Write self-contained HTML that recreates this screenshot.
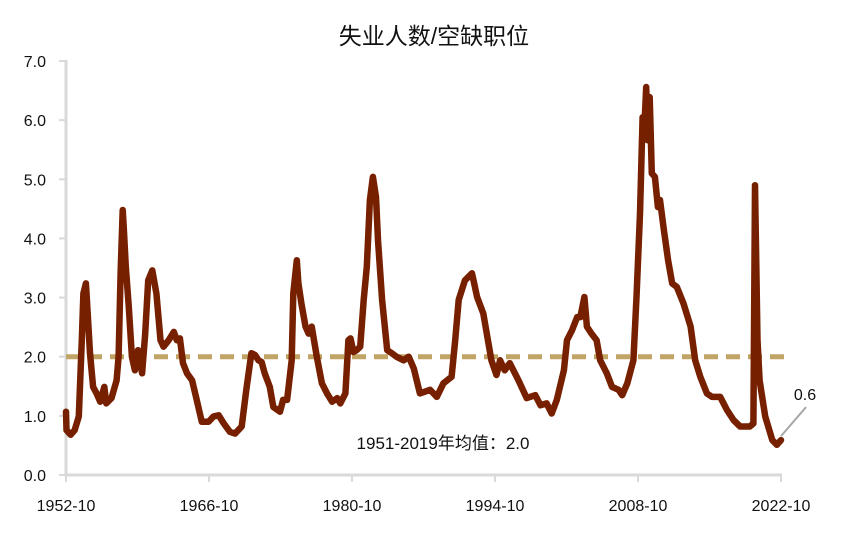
<!DOCTYPE html>
<html><head><meta charset="utf-8">
<style>
html,body{margin:0;padding:0;background:#fff;}
svg{display:block;font-family:"Liberation Sans","Noto Sans CJK SC",sans-serif;}
</style></head>
<body>
<svg id="chart" width="841" height="540" viewBox="0 0 841 540" xmlns="http://www.w3.org/2000/svg">
<text x="434" y="44" text-anchor="middle" font-size="23" fill="#111">失业人数/空缺职位</text>
<g id="axes"></g>
<g id="plot"></g>
</svg>
<script>
const years = [1952.75,1952.8,1953.2,1953.6,1954.0,1954.3,1954.45,1954.7,1954.8,1955.1,1955.4,1955.75,1956.1,1956.5,1956.7,1957.2,1957.7,1957.9,1958.1,1958.3,1958.4,1958.6,1958.9,1959.2,1959.5,1959.8,1960.2,1960.5,1960.8,1961.2,1961.6,1962.0,1962.3,1962.8,1963.3,1963.6,1963.9,1964.2,1964.6,1965.1,1965.55,1966.05,1966.7,1967.2,1967.7,1968.2,1968.8,1969.3,1969.95,1970.4,1970.9,1971.25,1971.6,1971.9,1972.2,1972.7,1973.05,1973.7,1974.0,1974.4,1974.85,1975.0,1975.35,1975.5,1975.8,1976.2,1976.5,1976.8,1977.3,1977.8,1978.3,1978.8,1979.3,1979.6,1980.1,1980.4,1980.6,1980.9,1981.2,1981.55,1981.9,1982.2,1982.5,1982.8,1983.1,1983.3,1983.7,1984.2,1984.65,1985.1,1985.8,1986.3,1986.8,1987.4,1988.4,1989.05,1989.7,1990.5,1990.85,1991.2,1991.8,1992.5,1993.0,1993.6,1994.4,1994.9,1995.25,1995.7,1996.2,1997.05,1997.85,1998.7,1999.2,1999.8,2000.3,2000.8,2001.5,2001.8,2002.3,2002.8,2003.1,2003.5,2003.75,2004.2,2004.7,2005.05,2005.7,2006.2,2006.85,2007.2,2007.7,2008.3,2008.6,2008.95,2009.2,2009.35,2009.55,2009.7,2009.9,2010.1,2010.4,2010.7,2010.9,2011.25,2011.7,2012.1,2012.55,2013.2,2013.9,2014.35,2014.85,2015.5,2016.0,2016.8,2017.45,2018.1,2018.75,2019.7,2020.05,2020.2,2020.45,2020.65,2021.2,2021.9,2022.35,2022.75];
const ratio = [1.07,0.76,0.68,0.76,0.99,2.28,3.07,3.24,2.96,2.06,1.49,1.38,1.24,1.49,1.21,1.30,1.6,2.0,3.41,4.48,4.2,3.52,2.84,2.0,1.77,2.11,1.72,2.39,3.29,3.46,3.07,2.28,2.17,2.28,2.42,2.28,2.31,1.89,1.72,1.6,1.27,0.9,0.9,0.99,1.01,0.87,0.73,0.70,0.82,1.44,2.06,2.03,1.94,1.91,1.72,1.49,1.15,1.07,1.27,1.27,1.94,3.07,3.63,3.24,2.9,2.51,2.39,2.51,2.0,1.55,1.38,1.24,1.30,1.21,1.38,2.28,2.31,2.08,2.11,2.17,2.96,3.52,4.65,5.04,4.7,3.97,2.96,2.11,2.06,2.0,1.94,2.0,1.8,1.38,1.44,1.32,1.55,1.66,2.28,2.96,3.29,3.41,3.01,2.73,1.94,1.69,1.94,1.77,1.89,1.6,1.30,1.35,1.18,1.21,1.04,1.27,1.77,2.28,2.45,2.67,2.67,3.01,2.51,2.39,2.28,1.94,1.72,1.49,1.44,1.35,1.55,1.94,3.01,4.42,6.05,5.77,6.56,5.66,6.39,5.1,5.04,4.53,4.65,4.19,3.63,3.24,3.18,2.9,2.51,1.94,1.66,1.38,1.32,1.32,1.10,0.93,0.82,0.82,0.87,4.9,2.28,1.6,0.99,0.59,0.51,0.59];
const yTicks = [0,1,2,3,4,5,6,7];
const xTickYears = [1952.75,1966.75,1980.75,1994.75,2008.75,2022.75];
const xTickLabels = ["1952-10","1966-10","1980-10","1994-10","2008-10","2022-10"];
const meanValue = [2.0];
const lastLabel = ["0.6"];

const NS="http://www.w3.org/2000/svg";
const X0=66,X1=781,Y0=475,Y1=61;
function xs(t){return X0+(t-1952.75)/(2022.75-1952.75)*(X1-X0);}
function ys(v){return Y0-v/7*(Y0-Y1);}
function mk(tag,attrs,parent,txt){const e=document.createElementNS(NS,tag);for(const k in attrs)e.setAttribute(k,attrs[k]);if(txt!==undefined)e.textContent=txt;parent.appendChild(e);return e;}
const axes=document.getElementById('axes'),plot=document.getElementById('plot');

let e=mk('line',{x1:X0,y1:Y1-1,x2:X0,y2:Y0+1,stroke:'#d9d9d9','stroke-width':3},axes);


e=mk('line',{x1:X0-1,y1:Y0,x2:X1+1,y2:Y0,stroke:'#d9d9d9','stroke-width':3},axes);


yTicks.forEach(v=>{
  const t=mk('line',{x1:X0-7,y1:ys(v),x2:X0,y2:ys(v),stroke:'#d9d9d9','stroke-width':2},axes);
  
  
  const l=mk('text',{x:46,y:ys(v)+6,'text-anchor':'end','font-size':16,fill:'#111'},axes,v.toFixed(1));
  
  
});
xTickYears.forEach((t,i)=>{
  const k=mk('line',{x1:xs(t),y1:Y0,x2:xs(t),y2:Y0+7,stroke:'#d9d9d9','stroke-width':2},axes);
  
  
  const l=mk('text',{x:xs(t),y:511,'text-anchor':'middle','font-size':16,fill:'#111'},axes,xTickLabels[i]);
  
  
});
e=mk('line',{x1:X0,y1:ys(meanValue[0]),x2:784,y2:ys(meanValue[0]),stroke:'#c2a465','stroke-width':5,'stroke-dasharray':'14 8'},plot);


e=mk('text',{x:443,y:449,'text-anchor':'middle','font-size':17,fill:'#111'},plot,'1951-2019年均值：'+meanValue[0].toFixed(1));


let d='';
years.forEach((t,i)=>{d+=(i?'L':'M')+xs(t).toFixed(1)+','+ys(ratio[i]).toFixed(1);});
e=mk('path',{d:d,fill:'none',stroke:'#772000','stroke-width':6.5,'stroke-linejoin':'round','stroke-linecap':'round'},plot);


const lx=xs(years[years.length-1]),ly=ys(ratio[ratio.length-1]);
e=mk('line',{x1:lx,y1:ly-4,x2:lx+25,y2:ly-33,stroke:'#a6a6a6','stroke-width':2},plot);


e=mk('text',{x:lx+24,y:ly-40,'text-anchor':'middle','font-size':16,fill:'#111'},plot,lastLabel[0]);


</script>
</body></html>
